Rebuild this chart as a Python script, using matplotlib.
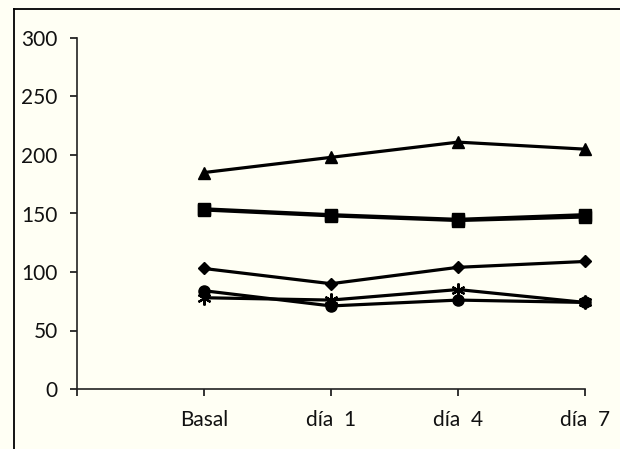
import matplotlib
matplotlib.use("Agg")
import matplotlib.pyplot as plt
from matplotlib.lines import Line2D

categories = ["Basal", "día  1", "día  4", "día  7"]
triangle = [185, 198, 211, 205]
square_a = [154, 149, 145, 149]
square_b = [153, 148, 144, 147]
diamond = [103, 90, 104, 109]
circle = [84, 71, 76, 74]
star = [78, 76, 85, 74]
yticks = [0, 50, 100, 150, 200, 250, 300]

bg = "#FFFFF4"
plt.rcParams['font.family'] = ['Lato', 'DejaVu Sans']
fig = plt.figure(figsize=(6.2, 4.49), dpi=100, facecolor=bg)
W, H = 620, 449
ax = fig.add_axes([77 / W, 1 - 389 / H, (585 - 77) / W, (389 - 38) / H])
ax.set_facecolor(bg)

x = [1, 2, 3, 4]
lw = 2.3
ax.plot(x, triangle, color="black", lw=lw, marker="^", ms=9, clip_on=False)
ax.plot(x, square_a, color="black", lw=lw, marker="s", ms=8.5, clip_on=False)
ax.plot(x, square_b, color="black", lw=lw, marker="s", ms=8.5, clip_on=False)
ax.plot(x, diamond, color="black", lw=lw, marker="D", ms=6.5, clip_on=False)
ax.plot(x, circle, color="black", lw=lw, marker="o", ms=8, clip_on=False)
ax.plot(x, star, color="black", lw=lw, marker=(6, 2, 0), ms=10, mew=1.6, clip_on=False)

ax.set_xlim(0, 4)
ax.set_ylim(0, 300)
ax.set_yticks(yticks)
ax.set_xticks([0, 1, 2, 3, 4])
ax.set_xticklabels([""] + categories)
for s in ["top", "right"]:
    ax.spines[s].set_visible(False)
for s in ["left", "bottom"]:
    ax.spines[s].set_linewidth(1.2)
    ax.spines[s].set_color("#222222")
ax.tick_params(axis="y", direction="out", length=5, width=1.2, pad=9, labelsize=15, colors="#111111")
ax.tick_params(axis="x", direction="out", length=5, width=1.2, pad=10, labelsize=15, colors="#111111")

fig.add_artist(Line2D([14 / W, 14 / W], [0, 1 - 9 / H], color="black", lw=1.3, transform=fig.transFigure))
fig.add_artist(Line2D([14 / W, 1], [1 - 9 / H, 1 - 9 / H], color="black", lw=1.3, transform=fig.transFigure))

fig.savefig("out.png", dpi=100, facecolor=bg)
